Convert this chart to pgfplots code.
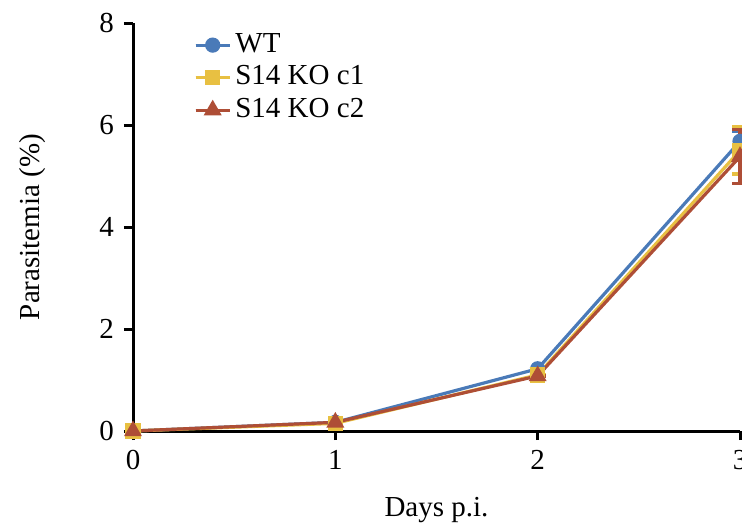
\documentclass[border=0pt]{standalone}
\usepackage{pgfplots}
\pgfplotsset{compat=1.18}
\usepackage{fontspec}
\setmainfont{Liberation Serif}

\definecolor{wtblue}{HTML}{4A7AB8}
\definecolor{cyellow}{HTML}{E8C042}
\definecolor{cred}{HTML}{AE4E36}

\begin{document}
\begin{tikzpicture}
	\fontsize{14.5}{17}\selectfont
	% the reference is cut off just right of day 3
	\clip (-66.5pt,-46.5pt) rectangle (304.5pt,215.5pt);
	\begin{axis}[
			at={(0,0)}, anchor=south west,
			scale only axis,
			width=303.5pt,
			height=204pt,
			xmin=0, xmax=3,
			ymin=0, ymax=8,
			xtick={0,1,2,3},
			ytick={0,2,4,6,8},
			axis lines=left,
			axis line style={line width=1.5pt, -},
			tick style={line width=1.5pt, black},
			tick align=outside,
			major tick length=4.5pt,
			clip=false,
			/pgf/number format/assume math mode=true,
			tick label style={font=\fontsize{14.5}{17}\selectfont},
			xlabel={Days p.i.},
			ylabel={Parasitemia (\%)},
			label style={font=\fontsize{14.5}{17}\selectfont},
			xlabel style={yshift=-4pt},
			ylabel style={yshift=17pt},
			legend cell align=left,
			legend style={
				at={(0.09,0.995)}, anchor=north west,
				draw=none, fill=none,
				font=\fontsize{14.5}{17}\selectfont,
				row sep=0.5pt,
			},
			legend image code/.code={
				\draw[#1] (0cm,0cm) -- (0.6cm,0cm);
				\draw[#1, mark repeat=2, mark phase=2] plot coordinates {(0cm,0cm) (0.3cm,0cm) (0.6cm,0cm)};
			},
		]

		\addplot [wtblue, line width=1.6pt, mark=*, mark size=3pt,
			error bars/.cd, y dir=both, y explicit,
			error bar style={line width=1.6pt}, error mark options={rotate=90, mark size=4pt, line width=1.6pt}]
		table [y error=err] {
		x	y	err
		0	0.00	0
		1	0.17	0
		2	1.22	0
		3	5.68	0.2
		};
		\addlegendentry{WT}

		\addplot [cyellow, line width=1.6pt, mark=square*, mark size=3pt,
			error bars/.cd, y dir=both, y explicit,
			error bar style={line width=1.6pt}, error mark options={rotate=90, mark size=4pt, line width=1.6pt}]
		table [y error=err] {
		x	y	err
		0	0.00	0
		1	0.15	0
		2	1.10	0
		3	5.50	0.46
		};
		\addlegendentry{S14 KO c1}

		\addplot [cred, line width=1.6pt, mark=triangle*, mark size=3.6pt,
			error bars/.cd, y dir=both, y explicit,
			error bar style={line width=1.6pt}, error mark options={rotate=90, mark size=4pt, line width=1.6pt}]
		table [y error=err] {
		x	y	err
		0	0.00	0
		1	0.17	0
		2	1.08	0
		3	5.38	0.53
		};
		\addlegendentry{S14 KO c2}

	\end{axis}
\end{tikzpicture}
\end{document}
